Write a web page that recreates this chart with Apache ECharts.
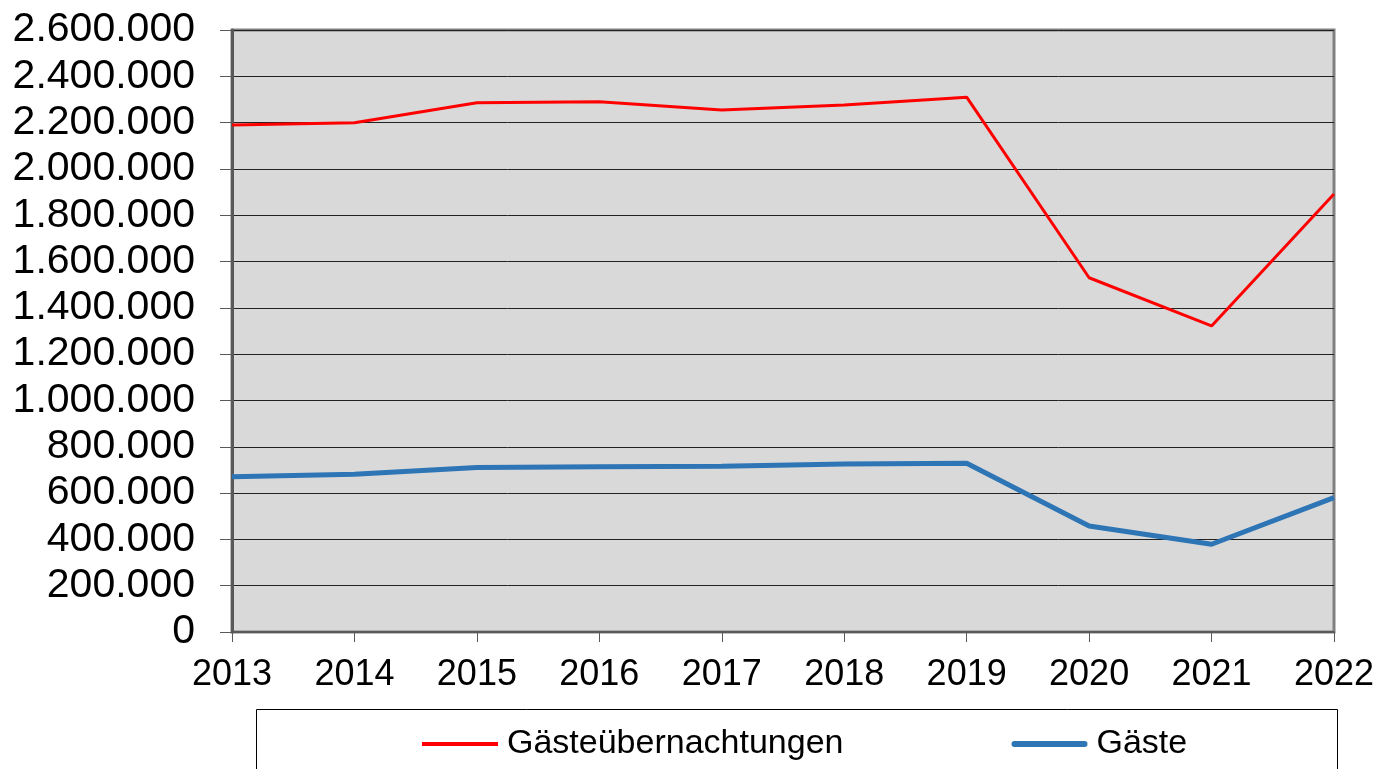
<!DOCTYPE html>
<html>
<head>
<meta charset="utf-8">
<title>Gäste und Gästeübernachtungen</title>
<script src="https://cdn.jsdelivr.net/npm/echarts@6/dist/echarts.min.js"></script>
<style>
	* { margin: 0; padding: 0; }
	#main { width: 1382px; height: 769px; background: #fff; }
</style>
</head>
<body>
<div id="main"></div>
<script>
	// Jahre und Werte
	let years = ['2013', '2014', '2015', '2016', '2017', '2018', '2019', '2020', '2021', '2022'];
	let uebernachtungen = [2190000, 2199000, 2286000, 2290000, 2255000, 2276000, 2310000, 1530000, 1322000, 1892000];
	let gaeste = [671000, 681000, 710000, 714000, 716000, 726000, 729000, 458000, 379000, 580000];
	let yMin = 0, yMax = 2600000, yStep = 200000;

	let myChart = echarts.init(document.getElementById('main'));

	function fmt(v) {
		return String(v).replace(/\B(?=(\d{3})+(?!\d))/g, '.');
	}

	let font = 'Liberation Sans, Arial, sans-serif';

	let option = {
		backgroundColor: '#fff',
		animation: false,
		grid: {
			left: 232,
			right: 48,
			top: 30,
			bottom: 137,
			show: true,
			backgroundColor: '#d9d9d9',
			borderColor: '#808080',
			borderWidth: 3
		},
		legend: {
			left: 422,
			top: 727,
			padding: 0,
			itemWidth: 76,
			itemHeight: 14,
			itemGap: 168,
			textStyle: {
				fontSize: 34,
				fontFamily: font,
				color: '#000',
				padding: [0, 0, 0, 4]
			},
			data: [
				{ name: 'Gästeübernachtungen', icon: 'path://M0,0H76V4H0Z' },
				{ name: 'Gäste', icon: 'path://M3,0H73A3,3,0,0,1,73,6H3A3,3,0,0,1,3,0Z' }
			]
		},
		xAxis: {
			type: 'category',
			data: years,
			boundaryGap: false,
			axisLine: { lineStyle: { color: '#595959', width: 2 } },
			axisTick: { show: true, length: 10, lineStyle: { color: '#595959', width: 1 } },
			axisLabel: {
				color: '#000',
				fontSize: 36,
				fontFamily: font,
				margin: 25,
				interval: 0
			},
			splitLine: { show: false }
		},
		yAxis: {
			type: 'value',
			min: yMin,
			max: yMax,
			interval: yStep,
			axisLine: { show: true, lineStyle: { color: '#595959', width: 3 } },
			axisTick: { show: true, length: 12, lineStyle: { color: '#595959', width: 1 } },
			axisLabel: {
				color: '#000',
				fontSize: 41,
				fontFamily: font,
				margin: 37,
				padding: [5, 0, 0, 0],
				formatter: fmt
			},
			splitLine: { show: true, lineStyle: { color: '#222', width: 1 } }
		},
		graphic: [{
			type: 'rect',
			shape: { x: 256.5, y: 709.5, width: 1081, height: 80 },
			style: { fill: 'none', stroke: '#000', lineWidth: 1 },
			z: -1
		}],
		series: [{
			name: 'Gästeübernachtungen',
			type: 'line',
			data: uebernachtungen,
			symbol: 'none',
			color: '#ff0000',
			lineStyle: { color: '#ff0000', width: 3 }
		}, {
			name: 'Gäste',
			type: 'line',
			data: gaeste,
			symbol: 'none',
			color: '#2e75b6',
			lineStyle: { color: '#2e75b6', width: 5 }
		}]
	};
	myChart.setOption(option);
</script>
</body>
</html>
